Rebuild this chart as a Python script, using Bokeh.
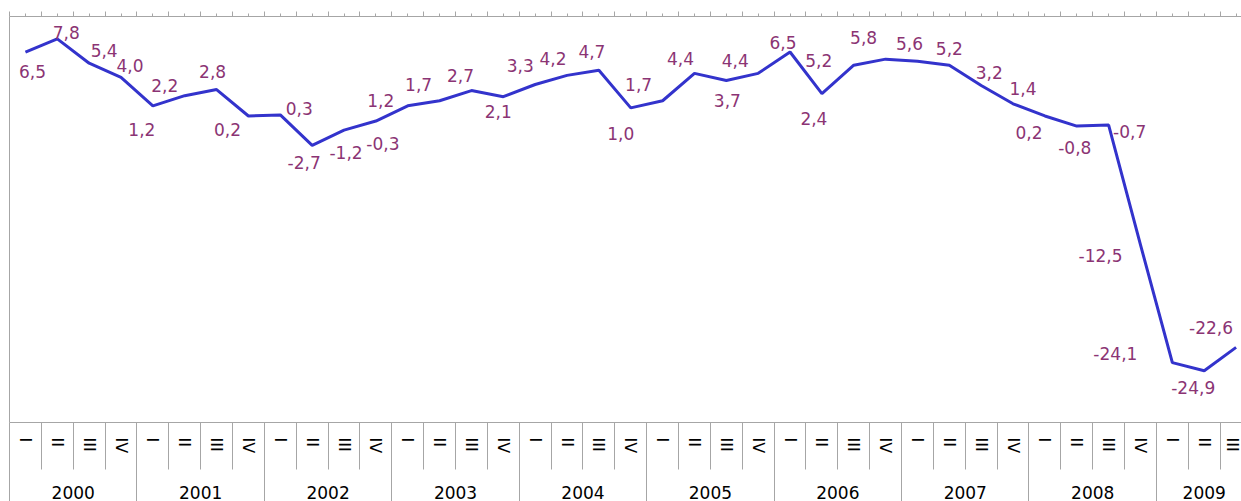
import math
from bokeh.plotting import figure
from bokeh.models import ColumnDataSource, Range1d, LinearAxis, FixedTicker
from bokeh.embed import file_html
from bokeh.resources import INLINE
from bokeh.core.properties import value

# ---- data ----
years = [2000, 2001, 2002, 2003, 2004, 2005, 2006, 2007, 2008, 2009]
quarter_labels = ["I", "II", "III", "IV"]
growth = [6.5, 7.8, 5.4, 4.0,
          1.2, 2.2, 2.8, 0.2,
          0.3, -2.7, -1.2, -0.3,
          1.2, 1.7, 2.7, 2.1,
          3.3, 4.2, 4.7, 1.0,
          1.7, 4.4, 3.7, 4.4,
          6.5, 2.4, 5.2, 5.8,
          5.6, 5.2, 3.2, 1.4,
          0.2, -0.8, -0.7, -12.5,
          -24.1, -24.9, -22.6]

# label placement (screen px offsets from each point)
label_dx = [7, 9, 15, 9, -11, -20, -4, -21, 19, -8, 2, 7, -27, -21, -11, -5, -15, -14, -7, -10,
            -24, -14, 1, -23, -7, -8, -35, -22, -8, 0, 8, 10, -16, -2, 21, -40, -57, -11, -25]
label_dy = [19, -6, -13, -12, 24, -10, -18, 14, -6, 17, 22, 22, -5, -16, -15, 15, -19, -17, -19, 26,
            -16, -15, 20, -13, -10, 25, -5, -22, -18, -17, -13, -15, 17, 21, 6, 11, -9, 17, -20]

n = len(growth)
xs = [2 * i + 1 for i in range(n)]          # quarter centres (2 units per quarter)
bounds = [2 * i for i in range(n + 1)]      # quarter boundaries
labels = [f"{v:.1f}".replace(".", ",") for v in growth]

src = ColumnDataSource(dict(x=xs, y=growth, label=labels, dx=label_dx, dy=label_dy))

GRAY = "#A6A6A6"
LINE = "#3333CC"
LABEL = "#8B3474"
FONT = "DejaVu Sans"

p = figure(width=1241, height=501,
           x_range=Range1d(0, 77.34), y_range=Range1d(-30, 10),
           output_backend="svg", toolbar_location=None,
           min_border_left=9, min_border_right=0, min_border_top=16, min_border_bottom=78)
p.xgrid.visible = False
p.ygrid.visible = False
p.outline_line_color = None
p.background_fill_color = "white"
p.border_fill_color = "white"

qx = p.below[0]
yax = p.left[0]

# left axis: plain line
yax.ticker = FixedTicker(ticks=[])
yax.axis_line_color = GRAY
yax.major_tick_line_color = None
yax.minor_tick_line_color = None
yax.major_tick_out = 0
yax.minor_tick_out = 0
yax.major_label_standoff = 0
yax.major_label_text_font_size = "1px"

# top axis: ticks only
top = LinearAxis(ticker=FixedTicker(ticks=bounds, minor_ticks=xs),
                 major_label_overrides={b: "" for b in bounds},
                 major_label_text_font_size="1px", major_label_standoff=0,
                 axis_line_color=GRAY,
                 major_tick_line_color=GRAY, major_tick_out=5, major_tick_in=0,
                 minor_tick_line_color=GRAY, minor_tick_out=3, minor_tick_in=0)
p.add_layout(top, "above")

# bottom axis 1: quarters (minor ticks = separators)
qx.ticker = FixedTicker(ticks=xs, minor_ticks=bounds)
qx.major_label_overrides = {x: quarter_labels[i % 4] for i, x in enumerate(xs)}
qx.major_label_orientation = -math.pi / 2
qx.major_tick_line_color = None
qx.major_tick_out = 0
qx.major_tick_in = 0
qx.minor_tick_line_color = GRAY
qx.minor_tick_out = 47
qx.minor_tick_in = 0
qx.axis_line_color = GRAY
qx.major_label_standoff = -32
qx.major_label_text_font = FONT
qx.major_label_text_font_size = "16px"
qx.major_label_text_color = "black"

# bottom axis 2: years
year_centers = []
for k, yv in enumerate(years):
    cs = [xs[i] for i in range(n) if i // 4 == k]
    year_centers.append(sum(cs) / len(cs))
year_bounds = [8 * k for k in range(len(years) + 1)]
yr = LinearAxis(ticker=FixedTicker(ticks=year_centers, minor_ticks=year_bounds),
                major_label_overrides={c: str(yv) for c, yv in zip(year_centers, years)},
                axis_line_color=None,
                major_tick_line_color=None, major_tick_out=0, major_tick_in=0,
                minor_tick_line_color=GRAY, minor_tick_out=50, minor_tick_in=0,
                major_label_standoff=-21,
                major_label_text_font=FONT, major_label_text_font_size="17px",
                major_label_text_color="black")
p.add_layout(yr, "below")

p.line(x="x", y="y", source=src, line_color=LINE, line_width=3)
p.text(x="x", y="y", text="label", x_offset="dx", y_offset="dy", source=src,
       text_font=value(FONT), text_font_size="17px", text_color=LABEL,
       text_align="center", text_baseline="middle")

open("out.html", "w").write(file_html(p, INLINE))
